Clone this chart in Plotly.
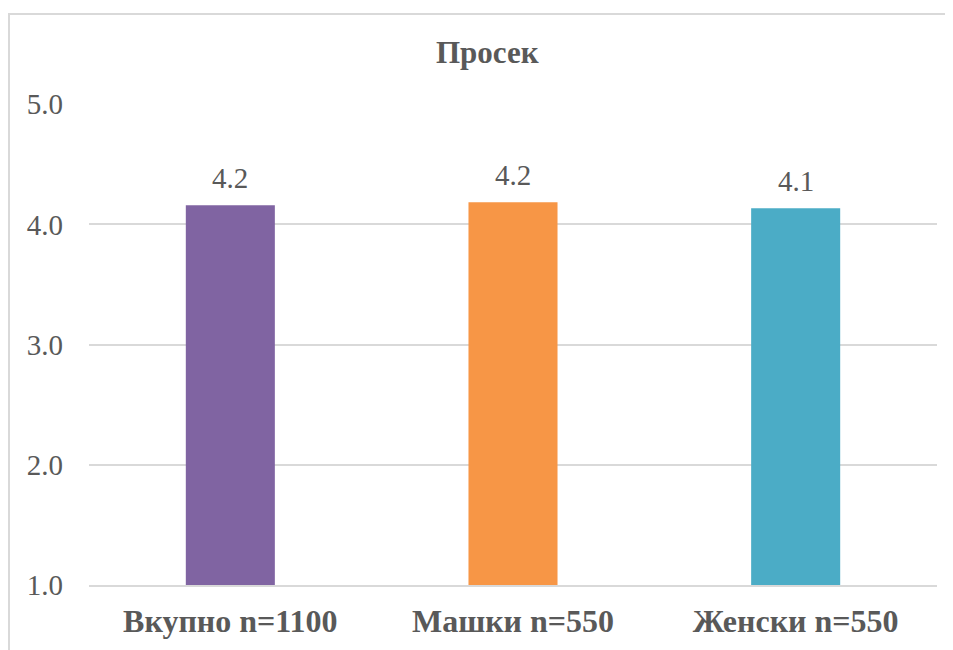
import plotly.graph_objects as go

categories = ["Вкупно n=1100", "Машки n=550", "Женски n=550"]
values = [4.16, 4.185, 4.135]
labels = ["4.2", "4.2", "4.1"]
colors = ["#8064A2", "#F79646", "#4BACC6"]
y_ticks = [1, 2, 3, 4, 5]
y_tick_text = ["1.0", "2.0", "3.0", "4.0", "5.0"]

OFF = 8  # default page body margin
W, H = 953 - OFF, 650 - OFF
L, T = 89 - OFF, 104 - OFF
R = W - (937 - OFF)
B = H - (585 - OFF)
pw, ph = W - L - R, H - T - B

def px2x(px):
    return (px - OFF - L) / pw

def py2y(py):
    return (H - B - (py - OFF)) / ph

font_family = "Liberation Serif"
txt = "#595959"

fig = go.Figure()
fig.add_trace(go.Bar(x=categories, y=values, marker=dict(color=colors, line=dict(width=0)),
                     width=0.315, hoverinfo="skip"))

for c, v, t in zip(categories, values, labels):
    fig.add_annotation(x=c, y=v, text=t, showarrow=False, yanchor="bottom", yshift=9,
                       font=dict(family=font_family, size=29, color=txt))

fig.add_annotation(xref="paper", yref="paper", x=px2x(487), y=py2y(52), text="<b>Просек</b>",
                   showarrow=False, xanchor="center", yanchor="middle",
                   font=dict(family=font_family, size=31, color=txt))

fig.add_shape(type="rect", xref="paper", yref="paper",
              x0=px2x(9), x1=px2x(990), y0=py2y(14), y1=py2y(700),
              line=dict(color="#D9D9D9", width=2), layer="below")

fig.update_layout(
    width=W, height=H, margin=dict(l=L, r=R, t=T, b=B, autoexpand=False),
    paper_bgcolor="white", plot_bgcolor="white", showlegend=False,
    font=dict(family=font_family),
    xaxis=dict(showgrid=False, showline=True, linecolor="#D9D9D9", linewidth=2,
               tickfont=dict(family=font_family, size=32, color=txt, weight="bold"),
               ticks="", ticklabelstandoff=7),
    yaxis=dict(range=[0.999, 5.002], tickvals=y_ticks, ticktext=y_tick_text,
               showgrid=True, gridcolor="#D9D9D9", gridwidth=2, zeroline=False,
               showline=False, ticks="", ticklabelstandoff=25,
               tickfont=dict(family=font_family, size=29, color=txt)),
)

fig.write_html("out.html")
